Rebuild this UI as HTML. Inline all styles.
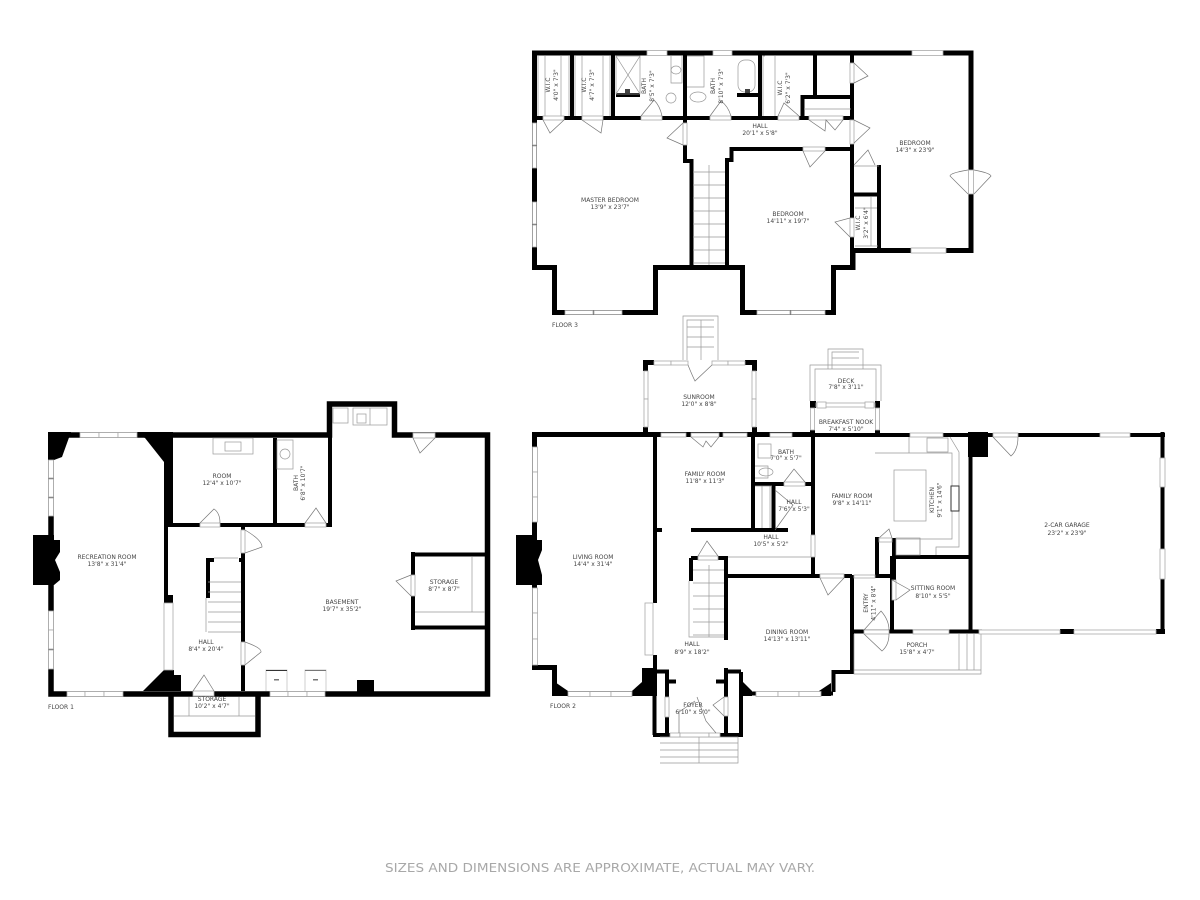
<!DOCTYPE html>
<html><head><meta charset="utf-8"><style>
html,body{margin:0;padding:0;background:#fff;width:1200px;height:900px;overflow:hidden}
svg{display:block}
.w{fill:none;stroke:#000;stroke-width:5;stroke-linejoin:miter;stroke-linecap:butt}
.t{fill:none;stroke:#000;stroke-width:4}
.b{fill:#000}
.g{fill:none;stroke:#999;stroke-width:.7}
.d{fill:none;stroke:#777;stroke-width:.7}
.o{fill:#fff;stroke:#aaa;stroke-width:.8}
text{font-family:"DejaVu Sans","Liberation Sans",sans-serif;font-size:6px;fill:#444;text-anchor:middle}
.l{text-anchor:start}
.f{font-size:12px;fill:#a8a8a8}
</style></head><body>
<svg width="1200" height="900" viewBox="0 0 1200 900" xmlns="http://www.w3.org/2000/svg">
<rect width="1200" height="900" fill="#fff"/>

<!-- FLOOR 3 -->
<path class="w" d="M534.5 53H971V250.5H853V267.5H833.5V312.5H742.5V267.5H655.5V312.5H554.5V267.5H534.5Z"/>
<path class="t" d="M534 118H852M572 54V118M613 54V118M685 54V161H691.5V268M760 54V118M815 54V97M802.5 118V97H852M852 54V268M616 95H640M737 95H760M727 268V160H731.5V149H852M879 165V250M854 194.500H879"/>
<path class="g" d="M854 166H879"/>
<!-- fixtures F3 -->
<g class="g">
<path d="M538 56V116M545 56V116M561 56V116M569 56V116M575 56V116M582 56V116M603 56V116M610 56V116"/>
<path d="M616 56H640V94H616ZM616 56L640 94M640 56L616 94"/>
<path d="M671 56V83H682V56M687 56H704V87H687M765 56H763V116M775 56V116"/>
<rect x="738" y="60" width="17" height="32" rx="7"/>
<ellipse cx="676" cy="70" rx="5" ry="4"/><ellipse cx="671" cy="98" rx="5" ry="5"/><ellipse cx="698" cy="97" rx="8" ry="5"/>
<path d="M804 109H851"/>
<path d="M693 172H725M693 185H725M693 198H725M693 211H725M693 224H725M693 237H725M693 250H725M693 263H725"/>
<path d="M709 165V265"/>
<path d="M855 208H877M871 197V246M855 246H878"/>
</g>
<rect x="625" y="89" width="5" height="4" fill="#444"/><rect x="745" y="89" width="5" height="4" fill="#444"/>
<g class="o">
<rect x="647" y="50.500" width="20" height="5"/><rect x="713" y="50.500" width="19" height="5"/><rect x="912" y="50.500" width="31" height="5"/><rect x="911" y="248" width="35" height="5"/>
<rect x="532.500" y="123" width="4" height="22"/><rect x="532.500" y="146" width="4" height="22"/><rect x="532.500" y="202" width="4" height="22"/><rect x="532.500" y="225" width="4" height="22"/>
<rect x="565" y="310.500" width="28" height="4"/><rect x="594" y="310.500" width="28" height="4"/><rect x="757" y="310.500" width="33" height="4"/><rect x="791" y="310.500" width="34" height="4"/>
<rect x="968.500" y="170" width="5" height="24"/>
<rect x="543" y="116" width="21" height="4"/><rect x="582" y="116" width="21" height="4"/><rect x="641" y="116" width="21" height="4"/><rect x="710" y="116" width="21" height="4"/><rect x="778" y="116" width="21" height="4"/><rect x="809" y="116" width="34" height="4"/>
<rect x="850" y="63" width="4" height="20"/><rect x="850" y="120" width="4" height="24"/><rect x="683" y="123" width="4" height="22"/><rect x="803" y="147" width="22" height="4"/><rect x="850" y="218" width="4" height="19"/>
</g>
<g class="d">
<path d="M543 120L550 133L564 120M582 120L601 133L603 120M641 116L654 100Q660 106 662 116M710 116L721 101Q728 106 731 116M778 116L784 103L799 116"/>
<path d="M809 120L825 131L826 120L835 130L843 120M854 63L868 76L854 83M854 120L870 128L854 143M683 123L667 138L683 145M803 151L810 167L825 151M854 165L868 150L875 165M850 218L835 222L850 237"/>
<path d="M968 170Q950 173 950 176L968 194M974 170Q990 173 991 176L974 194"/>
</g>

<!-- FLOOR 1 -->
<path class="w" d="M51 435H329.500V404H394.500V435H487.500V694H51Z" style="stroke-width:5.500"/>
<path class="w" d="M171 694V734.500H258V694" style="stroke-width:5.500"/>
<path class="b" d="M33 535H54V540H60V552L55 560L60 572V580L54 585H33ZM48 432H71L62 457L54 460H48ZM137 432H173V523H164V462L145 438L137 434ZM143 691L164 670H174V675H181V691H143ZM357 680H374V692H357Z"/>
<path class="b" d="M164 523H168V595H173V603H164Z"/>
<path class="t" d="M168 525H332M275 438V525M330 435V525M243 527V691M208 558V598M206 560H214M239 560H243M413 552V630M411 554.500H487M411 627.500H487"/>
<g class="g">
<path d="M214 558H238M208 582H241M208 592H241M208 602H241M208 612H241M208 622H241M208 632H241M206 598V632"/>
<path d="M472 557V612M415 612H485M174 716H255M189 697V716M239 697V716"/>
<rect x="213" y="438" width="40" height="16"/><rect x="225" y="442" width="16" height="9"/>
<rect x="277" y="440" width="16" height="29"/><circle cx="285" cy="454" r="5"/>
<rect x="333" y="408" width="15" height="15"/><rect x="353" y="408" width="34" height="17"/><path d="M370 408V425"/>
<rect x="357" y="414" width="9" height="9"/>
</g>
<path d="M266 691V670H287V691" fill="#fff" stroke="#bbb" stroke-width=".7"/><path d="M266 670.500H287" stroke="#333" stroke-width="1"/>
<path d="M305 691V670H326V691" fill="#fff" stroke="#bbb" stroke-width=".7"/><path d="M305 670.500H326" stroke="#777" stroke-width="1"/>
<rect x="274" y="679" width="5" height="1.500" fill="#777"/><rect x="313" y="679" width="5" height="1.500" fill="#777"/>
<g class="o">
<rect x="80" y="432.500" width="19" height="5"/><rect x="99" y="432.500" width="19" height="5"/><rect x="118" y="432.500" width="19" height="5"/>
<rect x="48.500" y="460" width="5" height="18"/><rect x="48.500" y="479" width="5" height="18"/><rect x="48.500" y="498" width="5" height="18"/>
<rect x="48.500" y="611" width="5" height="19"/><rect x="48.500" y="630" width="5" height="19"/><rect x="48.500" y="650" width="5" height="19"/>
<rect x="67" y="691.500" width="18" height="5"/><rect x="85" y="691.500" width="19" height="5"/><rect x="104" y="691.500" width="19" height="5"/>
<rect x="270" y="691.500" width="18" height="5"/><rect x="288" y="691.500" width="19" height="5"/><rect x="307" y="691.500" width="18" height="5"/>
<rect x="193" y="691" width="21" height="5"/><rect x="413" y="433" width="22" height="5"/>
<rect x="164" y="603" width="9" height="67"/>
<rect x="200" y="523" width="20" height="4"/><rect x="305" y="523" width="21" height="4"/>
<rect x="241" y="530" width="4" height="23"/><rect x="241" y="642" width="4" height="23"/><rect x="411" y="575" width="4" height="21"/>
</g>
<g class="d">
<path d="M200 523L214 509Q220 513 220 523M305 523L316 508L326 523M245 530Q262 540 262 547L245 553M245 642Q262 648 261 652L245 665M411 575L396 581L411 596M413 438L420 453L435 438M193 691L204 675L214 691"/>
</g>

<!-- FLOOR 2 -->
<path class="w" d="M534.500 434.500H813M534.500 432V667.500H554.500V693.500H655" style="stroke-width:5"/>
<path class="b" d="M516 535H537V540H542V550L538 560L542 575V585H516ZM552 680L568 691H552ZM632 696V691L642 682V668H657V696Z"/>
<path class="t" d="M655 437V603M655 655V672M657 530H662M654.500 668V735M667 672V697M667 717V735M655 671.500H669M669 681.500H676M726 556V640M726 668V735M741 672V735M726 671.500H741M716 681.500H726M691 558V581M691 558H698M718 558H728M726 576H852M852 575V672M833 672H854M833.500 670V692M743 693.500H833M653 735H743M753 432V530M691 530H788M755 484H815M773.500 486V530M813 432V535M813 557V576M892 556V630M894 538V580M877 537V577M875 576H896M896 557H970M854 631.500H970M970.500 432V632M813 435H1165M1162.500 432V632M970 631.500H982"/>
<path class="b" d="M968 432H988V457H968ZM1060 629H1074V634H1060ZM1156 629H1165V634H1156ZM643 360H654V365H648V371H643ZM745 360H757V371H752V365H745ZM643 427H648V437H643ZM752 427H757V437H752ZM810 401H816V408H810ZM875 401H880V408H875ZM875 430H880V437H875ZM810 430H815V437H810ZM740 673V696H752V691L743 682Z"/>
<path class="b" d="M831 683V696H819V691Z"/>
<g class="g">
<path d="M683 360V316H718V360M687 360V320H714M687 327H714M687 337H714M687 347H714M701 320V360"/>
<path d="M810 401V365H881V401M815 401V369H876V401M828 369V349H863V369M832 369V352H859M832 358H859"/>
<path d="M660 737H738V763H660M660 743H738M660 750H738M660 757H738M699 737V763"/>
<path d="M689 581V637H724M693 570H724M693 583H724M693 596H724M693 609H724M693 622H724M693 635H724M709 565V637"/>
<path d="M755 486H772M762 486V528M770 486V528"/>
<path d="M728 557H811"/>
<path d="M875 453H952V539H896M909 437V453M927 438H948V452H927ZM950 437L959 452V547H936V555"/>
<rect x="894" y="470" width="32" height="51"/><rect x="896" y="538" width="24" height="17"/><path d="M920 538V555"/>
<path d="M854 634V674H981V634M854 670H981M959 634V670M967 634V670M974 634V670"/>
<rect x="758" y="444" width="13" height="14"/><ellipse cx="766" cy="472" rx="7" ry="4"/>
<path d="M755 466H768V478H755"/>
</g>
<rect x="951" y="486" width="8" height="25" fill="#fff" stroke="#333" stroke-width="1"/>
<g class="o">
<rect x="532.500" y="447" width="5" height="25"/><rect x="532.500" y="472" width="5" height="25"/><rect x="532.500" y="497" width="5" height="25"/>
<rect x="532.500" y="588" width="5" height="25"/><rect x="532.500" y="613" width="5" height="26"/><rect x="532.500" y="639" width="5" height="26"/>
<rect x="568" y="691.500" width="22" height="5"/><rect x="590" y="691.500" width="21" height="5"/><rect x="611" y="691.500" width="21" height="5"/>
<rect x="756" y="691.500" width="22" height="5"/><rect x="778" y="691.500" width="21" height="5"/><rect x="799" y="691.500" width="22" height="5"/>
<rect x="645" y="603" width="8" height="52"/>
<rect x="661" y="433" width="25" height="4"/><rect x="691" y="433" width="28" height="4"/><rect x="723" y="433" width="24" height="4"/>
<rect x="654" y="361" width="17" height="4"/><rect x="671" y="361" width="17" height="4"/><rect x="712" y="361" width="16" height="4"/><rect x="728" y="361" width="17" height="4"/>
<rect x="644" y="371" width="4" height="28"/><rect x="644" y="399" width="4" height="28"/><rect x="752" y="371" width="4" height="28"/><rect x="752" y="399" width="4" height="28"/>
<rect x="670" y="733" width="10" height="4"/><rect x="680" y="733" width="29" height="4"/><rect x="709" y="733" width="11" height="4"/>
<rect x="770" y="433" width="22" height="4"/><rect x="910" y="433" width="33" height="4"/><rect x="993" y="433" width="25" height="4"/><rect x="1100" y="433" width="30" height="4"/>
<rect x="1160" y="458" width="5" height="29"/><rect x="1160" y="549" width="5" height="30"/>
<rect x="979" y="630" width="81" height="4"/><rect x="1074" y="630" width="82" height="4"/>
<rect x="913" y="630" width="36" height="4"/><rect x="864" y="630" width="25" height="4"/>
<rect x="816" y="403" width="59" height="4"/><rect x="817" y="402" width="9" height="6"/><rect x="865" y="402" width="9" height="6"/>
<rect x="810.500" y="408" width="4" height="22"/><rect x="875.500" y="408" width="4" height="22"/>
<rect x="811" y="535" width="4" height="22"/><rect x="820" y="574" width="24" height="4"/><rect x="854" y="575" width="21" height="3"/>
<rect x="892" y="580" width="4" height="20"/><rect x="784" y="482" width="21" height="4"/><rect x="698" y="556" width="20" height="4"/>
<rect x="665" y="697" width="4" height="20"/><rect x="724" y="697" width="4" height="19"/><rect x="879" y="538" width="13" height="4"/>
</g>
<g class="d">
<path d="M691 437L703 447L706 441L711 447L719 437M688 365Q692 375 695 381L712 365M784 482L794 469L805 482M775 490L793 505L775 530M698 556L707 541L718 556M820 578L828 595L844 578M892 580L910 590L896 600M864 630L881 611Q889 620 889 630M864 634L882 651Q889 645 889 634M993 437L1011 456Q1018 450 1018 437M697 697L706 721L716 733M679 733V712L695 701M724 697L713 705L724 716M879 538L889 529L892 538"/>
</g>

<!-- LABELS F3 -->
<text x="610" y="202">MASTER BEDROOM</text><text x="610" y="209">13'9" x 23'7"</text>
<text x="788" y="216">BEDROOM</text><text x="788" y="223">14'11" x 19'7"</text>
<text x="915" y="145">BEDROOM</text><text x="915" y="152">14'3" x 23'9"</text>
<text x="760" y="128">HALL</text><text x="760" y="135">20'1" x 5'8"</text>
<g transform="translate(550 85) rotate(-90)"><text>W.I.C</text><text y="8">4'0" x 7'3"</text></g>
<g transform="translate(586 85) rotate(-90)"><text>W.I.C</text><text y="8">4'7" x 7'3"</text></g>
<g transform="translate(646 86) rotate(-90)"><text>BATH</text><text y="8">8'5" x 7'3"</text></g>
<g transform="translate(715 86) rotate(-90)"><text>BATH</text><text y="8">8'10" x 7'3"</text></g>
<g transform="translate(782 88) rotate(-90)"><text>W.I.C</text><text y="8">6'2" x 7'3"</text></g>
<g transform="translate(860 223) rotate(-90)"><text>W.I.C</text><text y="8">3'2" x 6'4"</text></g>
<text class="l" x="552" y="327">FLOOR 3</text>

<!-- LABELS F1 -->
<text x="107" y="559">RECREATION ROOM</text><text x="107" y="566">13'8" x 31'4"</text>
<text x="222" y="478">ROOM</text><text x="222" y="485">12'4" x 10'7"</text>
<g transform="translate(298 483) rotate(-90)"><text>BATH</text><text y="7">6'8" x 10'7"</text></g>
<text x="206" y="644">HALL</text><text x="206" y="651">8'4" x 20'4"</text>
<text x="444" y="584">STORAGE</text><text x="444" y="591">8'7" x 8'7"</text>
<text x="342" y="604">BASEMENT</text><text x="342" y="611">19'7" x 35'2"</text>
<text x="212" y="701">STORAGE</text><text x="212" y="708">10'2" x 4'7"</text>
<text class="l" x="48" y="709">FLOOR 1</text>

<!-- LABELS F2 -->
<text x="699" y="399">SUNROOM</text><text x="699" y="406">12'0" x 8'8"</text>
<text x="786" y="454">BATH</text><text x="786" y="460">7'0" x 5'7"</text>
<text x="705" y="476">FAMILY ROOM</text><text x="705" y="483">11'8" x 11'3"</text>
<text x="794" y="504">HALL</text><text x="794" y="511">7'6" x 5'3"</text>
<text x="771" y="539">HALL</text><text x="771" y="546">10'5" x 5'2"</text>
<text x="593" y="559">LIVING ROOM</text><text x="593" y="566">14'4" x 31'4"</text>
<text x="787" y="634">DINING ROOM</text><text x="787" y="641">14'13" x 13'11"</text>
<text x="692" y="646">HALL</text><text x="692" y="654">8'9" x 18'2"</text>
<text x="693" y="707">FOYER</text><text x="693" y="714">6'10" x 5'0"</text>
<text class="l" x="550" y="708">FLOOR 2</text>
<text x="846" y="383">DECK</text><text x="846" y="389">7'8" x 3'11"</text>
<text x="846" y="424">BREAKFAST NOOK</text><text x="846" y="431">7'4" x 5'10"</text>
<text x="852" y="498">FAMILY ROOM</text><text x="852" y="505">9'8" x 14'11"</text>
<g transform="translate(934 500) rotate(-90)"><text>KITCHEN</text><text y="7.500">9'1" x 14'6"</text></g>
<text x="1067" y="527">2-CAR GARAGE</text><text x="1067" y="535">23'2" x 23'9"</text>
<text x="933" y="590">SITTING ROOM</text><text x="933" y="598">8'10" x 5'5"</text>
<g transform="translate(868 603) rotate(-90)"><text>ENTRY</text><text y="7.500">4'11" x 8'4"</text></g>
<text x="917" y="647">PORCH</text><text x="917" y="654">15'8" x 4'7"</text>

<text class="f" x="600" y="872" textLength="430" lengthAdjust="spacingAndGlyphs">SIZES AND DIMENSIONS ARE APPROXIMATE, ACTUAL MAY VARY.</text>
</svg>
</body></html>
